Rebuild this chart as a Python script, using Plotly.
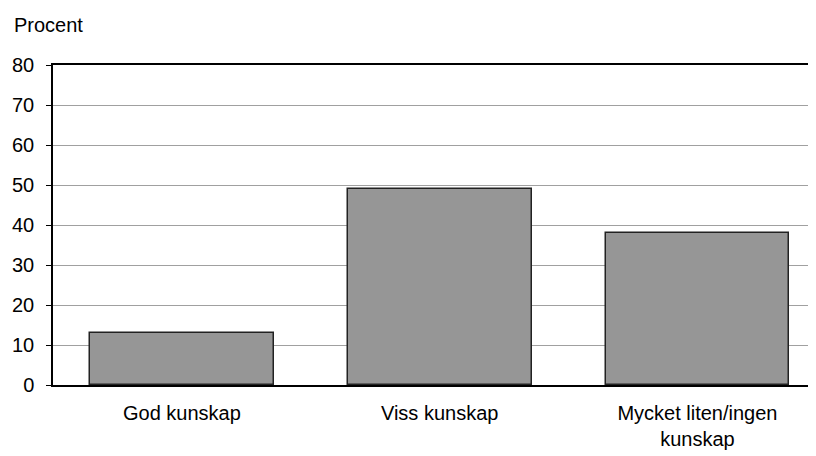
import plotly.graph_objects as go

categories = ["God kunskap", "Viss kunskap", "Mycket liten/ingen<br>kunskap"]
values = [13, 49, 38]
y_ticks = [0, 10, 20, 30, 40, 50, 60, 70, 80]

fig = go.Figure()
fig.add_trace(go.Bar(
    x=list(range(len(categories))), y=values, width=0.713,
    marker=dict(color="#969696", line=dict(color="#222222", width=1.5)),
))

font = dict(family="Liberation Sans, Arial, sans-serif", size=20, color="#000000")

# page body has an 8px margin, so the figure is 8px smaller
fig.update_layout(
    width=808, height=448,
    margin=dict(l=45, r=0, t=57, b=71, autoexpand=False),
    paper_bgcolor="white", plot_bgcolor="white",
    font=font, showlegend=False, bargap=0,
    xaxis=dict(
        tickmode="array", tickvals=list(range(len(categories))), ticktext=categories,
        range=[-0.5, 2.46], showgrid=False, showline=True, mirror=True,
        linecolor="#000000", linewidth=1.5, ticks="", ticklabelstandoff=9,
        zeroline=False, automargin=False,
    ),
    yaxis=dict(
        range=[0, 80], tickvals=y_ticks, showgrid=True, gridcolor="#a0a0a0",
        gridwidth=1, showline=True, linecolor="#000000", linewidth=1.5,
        ticks="outside", ticklen=5, tickcolor="#000000", ticklabelstandoff=8,
        zeroline=False, automargin=False,
    ),
    annotations=[dict(
        text="Procent", x=(12 - 53) / 763, y=1 + (65 - 25) / 320,
        xref="paper", yref="paper",
        xanchor="left", yanchor="middle", showarrow=False, font=font,
    )],
)

fig.write_html("out.html")
